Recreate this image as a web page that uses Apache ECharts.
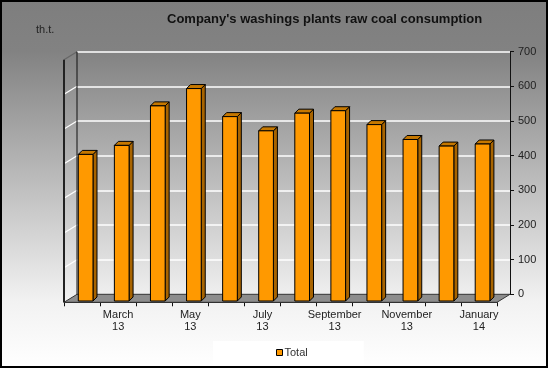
<!DOCTYPE html>
<html>
<head>
<meta charset="utf-8">
<script src="https://cdn.jsdelivr.net/npm/echarts@6/dist/echarts.min.js"></script>
<style>
html,body{margin:0;padding:0;background:#fff;}
#c{width:548px;height:368px;}
</style>
</head>
<body>
<div id="c"></div>
<script>
// ---- data ----
const categories = ['February\n13','March\n13','April\n13','May\n13','June\n13','July\n13','August\n13','September\n13','October\n13','November\n13','December\n13','January\n14'];
const totals = [423, 449, 563, 613, 532, 491, 542, 549, 509, 466, 447, 453];
const seriesName = 'Total';
const titleText = "Company's washings plants raw coal consumption";
const unitText = 'th.t.';
const yMin = 0, yMax = 700, yStep = 100;

// ---- layout (3D box) ----
const BX0 = 77, BX1 = 510, BYTOP = 51.7, BYBOT = 294.3; // back wall
const DX = -13, DY = 8;                                  // depth offset back -> front
const W = 548, H = 368;
const FONT = '"Liberation Sans", Arial, sans-serif';

const chart = echarts.init(document.getElementById('c'), null, {renderer: 'canvas'});

const option = {
  backgroundColor: {
    type: 'linear', x: 0, y: 0, x2: 0, y2: 1,
    colorStops: [
      {offset: 0, color: '#7e7e7e'},
      {offset: 0.14, color: '#828282'},
      {offset: 0.82, color: '#f2f2f2'},
      {offset: 1, color: '#ffffff'}
    ]
  },
  animation: false,
  textStyle: {fontFamily: FONT},
  title: [
    {text: titleText, left: 167, top: 13, padding: 0,
     textStyle: {fontSize: 13, fontWeight: 'bold', color: '#111', fontFamily: FONT}},
    {text: unitText, left: 36, top: 24, padding: 0,
     textStyle: {fontSize: 11, fontWeight: 'normal', color: '#222', fontFamily: FONT}}
  ],
  legend: {
    data: [seriesName],
    left: 213, top: 341,
    padding: [6, 56, 6, 63],
    backgroundColor: '#ffffff',
    icon: 'rect', itemWidth: 6, itemHeight: 6, itemGap: 4,
    itemStyle: {borderColor: '#000', borderWidth: 1},
    textStyle: {fontSize: 11, color: '#333', fontFamily: FONT, padding: [0,0,0,-3]}
  },
  grid: [
    {left: BX0, top: BYTOP, width: BX1 - BX0, height: BYBOT - BYTOP},
    {left: BX0 + DX, top: BYTOP + DY, width: BX1 - BX0, height: BYBOT - BYTOP}
  ],
  xAxis: [
    {type: 'category', gridIndex: 0, data: categories, show: false},
    {type: 'category', gridIndex: 1, data: categories,
     axisLine: {show: true, lineStyle: {color: '#111', width: 1}},
     axisTick: {show: true, interval: 0, length: 4, lineStyle: {color: '#111'}},
     axisLabel: {interval: function (i) { return i % 2 === 1; }, margin: 7,
                 fontSize: 11, lineHeight: 12, color: '#222', fontFamily: FONT}}
  ],
  yAxis: [
    {type: 'value', gridIndex: 0, position: 'right', min: yMin, max: yMax, interval: yStep,
     axisLine: {show: true, lineStyle: {color: '#111', width: 1}},
     axisTick: {show: true, length: 4, lineStyle: {color: '#111'}},
     axisLabel: {margin: 8, fontSize: 11, color: '#222', fontFamily: FONT},
     splitLine: {show: true, lineStyle: {color: '#ffffff', width: 1.5}}},
    {type: 'value', gridIndex: 1, min: yMin, max: yMax, interval: yStep, show: false,
     splitLine: {show: false}}
  ],
  series: [{
    name: seriesName,
    type: 'custom',
    xAxisIndex: 1, yAxisIndex: 1,
    z: 5,
    itemStyle: {color: '#FF9900'},
    data: totals.map((v, i) => [i, v]),
    renderItem: function (params, api) {
      const i = api.value(0), v = api.value(1);
      const top = api.coord([i, v]);
      const base = api.coord([i, 0]);
      const band = api.size([1, 0])[0];
      const w = band * 0.407;
      const cx = top[0] + 3.6;
      const x0 = cx - w / 2, x1 = cx + w / 2;
      const yT = top[1] - 1.3, yB = base[1] - 1.3;
      const d = 4;
      const stroke = {stroke: '#000', lineWidth: 1};
      return {
        type: 'group',
        children: [
          {type: 'polygon', shape: {points: [[x1, yT], [x1 + d, yT - d], [x1 + d, yB - d], [x1, yB]]},
           style: Object.assign({fill: '#a86400'}, stroke)},
          {type: 'polygon', shape: {points: [[x0, yT], [x0 + d, yT - d], [x1 + d, yT - d], [x1, yT]]},
           style: Object.assign({fill: '#c67800'}, stroke)},
          {type: 'rect', shape: {x: x0, y: yT, width: w, height: yB - yT},
           style: Object.assign({fill: '#FF9900'}, stroke)}
        ]
      };
    }
  }]
};

chart.setOption(option);

// ---- 3D box decorations (floor, side wall, edges) ----
const g = [];
// side wall grid lines from the back-wall tick positions
for (let v = yMin; v <= yMax; v += yStep) {
  const y = chart.convertToPixel({yAxisIndex: 0}, v);
  g.push({type: 'line', z: 1, silent: true,
          shape: {x1: BX0, y1: y, x2: BX0 + DX, y2: y + DY},
          style: {stroke: v === yMax ? '#666' : '#ffffff', lineWidth: 1.2}});
}
// floor
g.push({type: 'polygon', z: 2, silent: true,
        shape: {points: [[BX0, BYBOT], [BX1, BYBOT], [BX1 + DX, BYBOT + DY], [BX0 + DX, BYBOT + DY]]},
        style: {fill: '#8d8d8d', stroke: '#333', lineWidth: 1}});
// back-wall left edge
g.push({type: 'line', z: 2, silent: true,
        shape: {x1: BX0, y1: BYTOP, x2: BX0, y2: BYBOT},
        style: {stroke: '#111', lineWidth: 1}});
// side wall front edge
g.push({type: 'line', z: 2, silent: true,
        shape: {x1: BX0 + DX, y1: BYTOP + DY, x2: BX0 + DX, y2: BYBOT + DY},
        style: {stroke: '#222', lineWidth: 2}});
// outer border
g.push({type: 'rect', z: 10, silent: true,
        shape: {x: 1, y: 1, width: W - 2, height: H - 2},
        style: {fill: null, stroke: '#000', lineWidth: 2}});
chart.setOption({graphic: g});
</script>
</body>
</html>
